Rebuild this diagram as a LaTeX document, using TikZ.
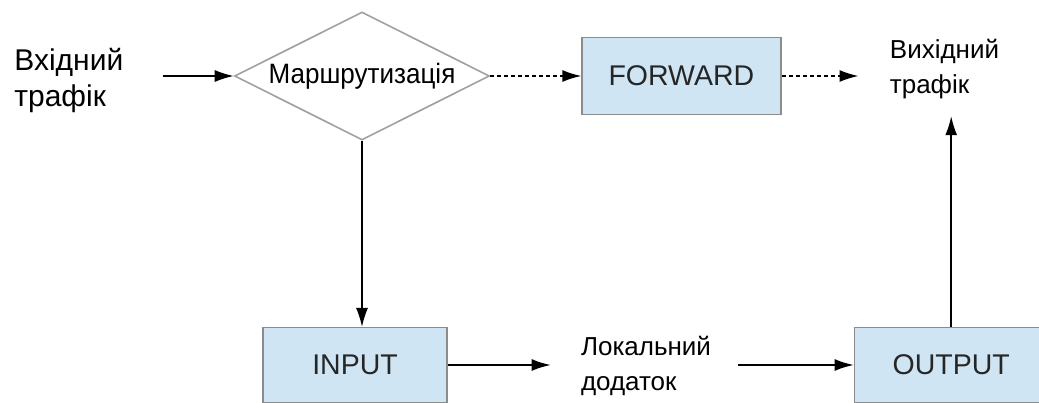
\documentclass[tikz,border=0pt]{standalone}
\usepackage{fontspec}
\setmainfont{Liberation Sans}
\newfontfamily\narrowfont[FakeStretch=0.93]{Liberation Sans}
\usetikzlibrary{positioning,shapes.geometric,arrows.meta}

\definecolor{boxblue}{RGB}{208,229,243}
\definecolor{boxgray}{RGB}{140,140,140}
\definecolor{diagray}{RGB}{160,160,160}

\begin{document}
\begin{tikzpicture}[
    x=1pt, y=-1pt,
    thick,
    label/.style={
        inner sep=0pt,
        align=left,
        font=\fontsize{26}{35}\selectfont
    },
    chain/.style={
        rectangle,
        draw=boxgray,
        line width=1.2pt,
        fill=boxblue,
        minimum width=190pt,
        minimum height=75pt,
        inner sep=0pt,
        text=black!85,
        font=\fontsize{28.5}{32}\selectfont
    },
    decision/.style={
        diamond,
        shape aspect=2,
        draw=diagray,
        line width=1.6pt,
        fill=white,
        minimum width=255pt,
        minimum height=128pt,
        inner sep=0pt,
        font=\narrowfont\fontsize{28}{32}\selectfont
    },
    arr/.style={-{Latex[length=19pt,width=12pt]}, line width=1.5pt},
    darr/.style={arr, dash pattern=on 4pt off 3pt}
]
    \useasboundingbox (0,0) rectangle (1039,403);

    % Nodes
    \node[decision] (route) at (362,76) {Маршрутизація};
    \node[label, anchor=west, font=\fontsize{30}{36}\selectfont] (in) at (14,80) {Вхідний\\трафік};
    \node[chain, minimum width=199pt, minimum height=77pt] (forward) [right=91pt of route] {FORWARD};
    \node[label, anchor=west] (out) [right=108pt of forward, yshift=7pt] {Вихідний\\трафік};
    \node[chain, minimum width=184pt] (input) at (355,365) {INPUT};
    \node[label, anchor=west] (local) [right=133pt of input, yshift=-1pt] {Локальний\\додаток};
    \node[chain, minimum width=194pt] (output) [right=406pt of input] {OUTPUT};

    % Connectors
    \draw[arr, shorten <=39pt] (route.west -| in.east) -- (route.west);
    \draw[darr] (route) -- (forward);
    \draw[darr, shorten >=31pt] (forward.east) -- (forward.east -| out.west);
    \draw[arr] (route.south) -- (route.south |- input.north);
    \draw[arr, shorten >=30pt] (input.east) -- (input.east -| local.west);
    \draw[arr, shorten <=27pt] (local.east |- output.west) -- (output.west);
    \draw[arr, shorten >=17pt] (output.north) -- (output.north |- out.south);
\end{tikzpicture}
\end{document}
